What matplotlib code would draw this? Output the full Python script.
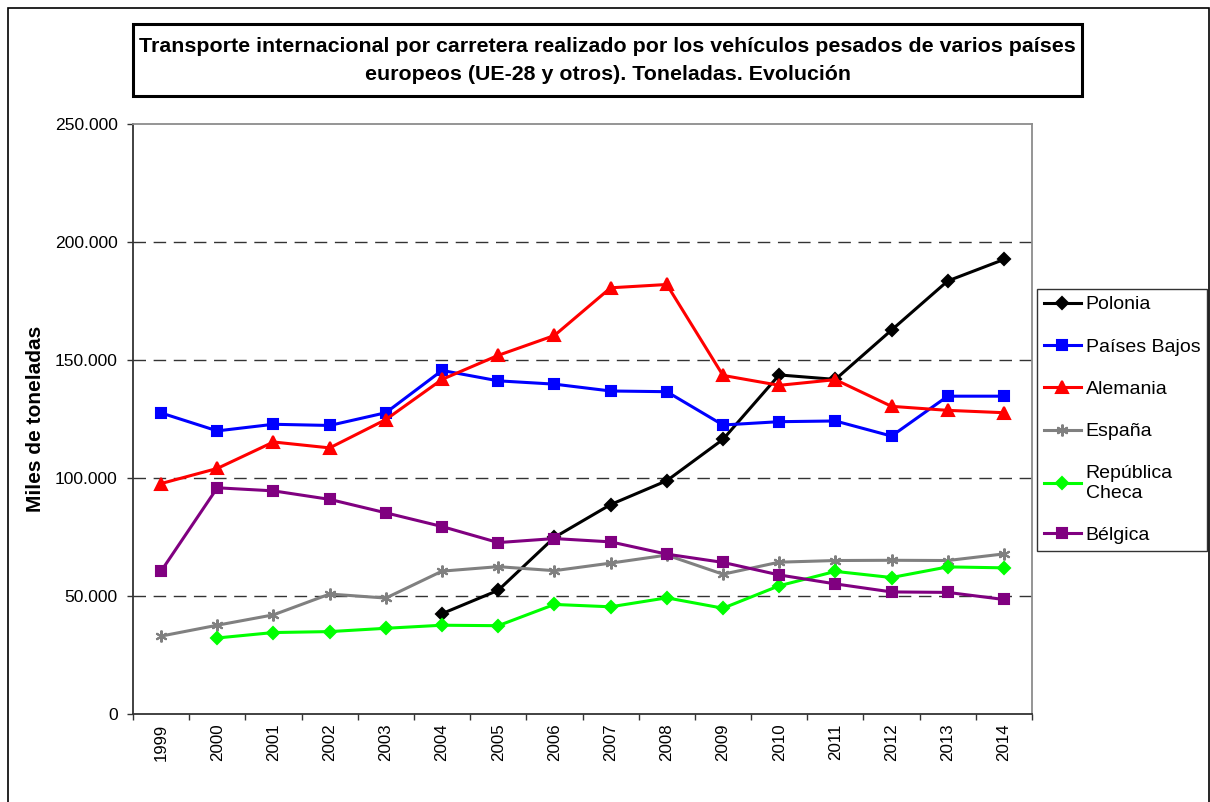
import numpy as np
import matplotlib
matplotlib.use("Agg")
import matplotlib.pyplot as plt
from matplotlib.patches import Rectangle
from matplotlib.ticker import FuncFormatter, FixedLocator

plt.rcParams['font.family'] = ['Liberation Sans', 'DejaVu Sans']
plt.rcParams['lines.scale_dashes'] = False

years = ['1999', '2000', '2001', '2002', '2003', '2004', '2005', '2006',
         '2007', '2008', '2009', '2010', '2011', '2012', '2013', '2014']
nan = np.nan
polonia = [nan, nan, nan, nan, nan, 42500, 52400, 74800, 88700, 98800,
           116300, 143600, 141700, 162600, 183400, 192500]
paises_bajos = [127500, 119900, 122700, 122200, 127600, 145500, 141100, 139700,
                136800, 136500, 122400, 123800, 124100, 117700, 134600, 134600]
alemania = [97600, 104000, 115200, 112700, 124700, 141700, 151900, 160300,
            180500, 181900, 143400, 139200, 141600, 130300, 128600, 127600]
espana = [33000, 37600, 42000, 50800, 49100, 60500, 62400, 60700,
          63900, 67300, 59200, 64300, 65000, 65100, 65000, 67800]
rep_checa = [nan, 32200, 34500, 34900, 36300, 37600, 37400, 46400,
             45400, 49200, 44800, 54300, 60400, 57800, 62300, 61900]
belgica = [60500, 95800, 94500, 90900, 85200, 79400, 72600, 74300,
           72900, 67700, 64200, 58900, 55100, 51700, 51500, 48500]

series = [
    ('Polonia', polonia, '#000000', 'D', 6.0),
    ('Países Bajos', paises_bajos, '#0000FF', 's', 7.5),
    ('Alemania', alemania, '#FF0000', '^', 8.0),
    ('España', espana, '#808080', (6, 2, 0), 8.5),
    ('República\nCheca', rep_checa, '#00FF00', 'D', 6.0),
    ('Bélgica', belgica, '#800080', 's', 7.5),
]

W, H = 1210, 802
fig = plt.figure(figsize=(W / 100, H / 100), dpi=100)

# outer frame
fig.add_artist(Rectangle((8 / W, -0.02), (1209 - 8) / W, 1.02 - 8 / H,
                         transform=fig.transFigure, fill=False,
                         edgecolor='#000000', linewidth=1.2))

left, right, top, bottom = 133, 1032, 123.7, 714
ax = fig.add_axes([left / W, 1 - bottom / H, (right - left) / W, (bottom - top) / H])

x = np.arange(len(years))
for name, vals, col, mk, ms in series:
    ax.plot(x, vals, color=col, linewidth=2.2, marker=mk, markersize=ms,
            markerfacecolor=col, markeredgecolor=col, markeredgewidth=1.5,
            label=name, zorder=3)

ax.set_xlim(-0.5, len(years) - 0.5)
ax.set_ylim(0, 250000)
ax.yaxis.set_major_locator(FixedLocator([0, 50000, 100000, 150000, 200000, 250000]))
ax.yaxis.set_major_formatter(FuncFormatter(lambda v, p: f"{int(v):,}".replace(',', '.')))
for gv in [50000, 100000, 150000, 200000]:
    ax.axhline(gv, color='#333333', linewidth=1.0, linestyle=(0, (9, 5.5)), zorder=1)

ax.set_xticks(x)
ax.set_xticklabels(years, rotation=90, fontsize=12.2)
ax.set_xticks(np.arange(-0.5, len(years)), minor=True)
ax.tick_params(axis='x', which='major', length=0, pad=7)
ax.tick_params(axis='x', which='minor', length=4.2, width=1.0, color='#333333', direction='out')
ax.tick_params(axis='y', which='major', length=4, width=1.0, color='#333333',
               direction='out', pad=7, labelsize=12.6)

for s in ['left', 'bottom']:
    ax.spines[s].set_color('#333333')
    ax.spines[s].set_linewidth(1.3)
for s in ['top', 'right']:
    ax.spines[s].set_color('#8c8c8c')
    ax.spines[s].set_linewidth(1.3)

ax.set_ylabel('Miles de toneladas', fontsize=15, fontweight='bold')
ax.yaxis.set_label_coords(-(left - 45) / (right - left), 0.5)

leg = ax.legend(loc='upper left', bbox_to_anchor=(1037 / W, 1 - 289 / H),
                bbox_transform=fig.transFigure, borderaxespad=0,
                fontsize=14, frameon=True, fancybox=False, edgecolor='#000000',
                handlelength=1.9, handletextpad=0.26, borderpad=0.35,
                labelspacing=1.27)
leg.get_frame().set_linewidth(1.0)

# title box
fig.add_artist(Rectangle((133 / W, 1 - 96 / H), (1082 - 133) / W, (96 - 24) / H,
                         transform=fig.transFigure, fill=False,
                         edgecolor='#000000', linewidth=2.2))
fig.text((133 + 1082) / 2 / W, 1 - 61 / H,
         'Transporte internacional por carretera realizado por los vehículos pesados de varios países\n'
         'europeos (UE-28 y otros). Toneladas. Evolución',
         ha='center', va='center', fontsize=15.4, fontweight='bold', linespacing=1.6)

fig.savefig('out.png', dpi=100)
